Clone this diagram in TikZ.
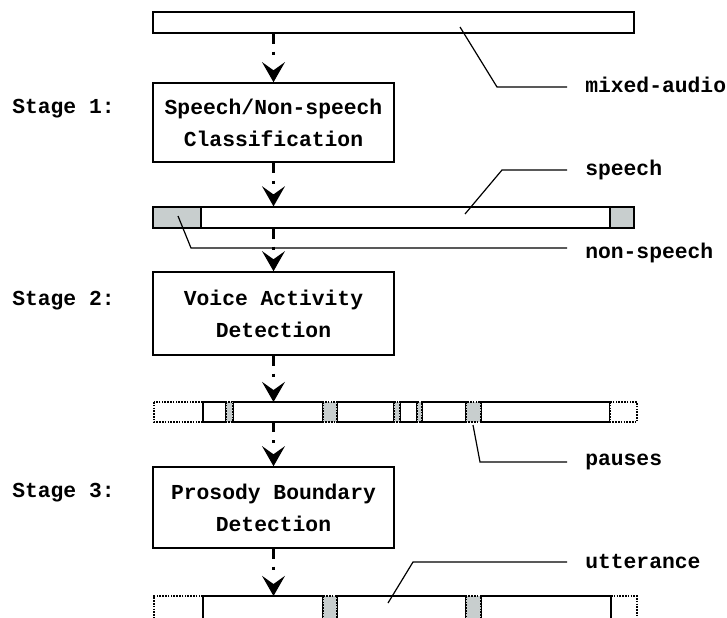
\documentclass[tikz,border=0pt]{standalone}
\usepackage{fontspec}
\setmainfont{Liberation Mono}
\usetikzlibrary{arrows.meta,calc}
\definecolor{pausegray}{RGB}{200,206,206}
\tikzset{
 txt/.style={font=\fontsize{16}{24}\selectfont\bfseries},
 stagebox/.style={draw, line width=1.1pt, minimum width=180.75pt, align=center, txt},
 lbl/.style={anchor=base west, inner sep=0pt, txt},
 flow/.style={line width=2.4pt, dash pattern=on 7.5pt off 6pt on 2.4pt off 30pt, -{Stealth[length=15pt,width=17pt,inset=6pt]}},
 seg/.style={draw, line width=0.9pt, fill=white},
 dots/.style={line width=1.7pt, dash pattern=on 1.2pt off 0.9pt},
 pausebox/.style={draw, dots, fill=pausegray},
 dotedge/.style={draw, dots},
 leader/.style={line width=0.9pt},
}
\begin{document}
\begin{tikzpicture}[x=0.75pt,y=-0.75pt]
\useasboundingbox (0,0) rectangle (727,617);
\clip (0,0) rectangle (727,617);
% bars 1 and 2
\node[seg, minimum width=360.75pt, minimum height=15.75pt, inner sep=0pt] (bar1) at (393.5,22.5) {};
\node[seg, minimum width=360.75pt, minimum height=15.75pt, inner sep=0pt] (bar2) at (393.5,217.5) {};
\draw[seg, fill=pausegray] (153,207) rectangle (201,228);
\draw[seg, fill=pausegray] (610,207) rectangle (634,228);
% stage boxes
\node[stagebox, minimum height=59.25pt] (box1) at (273.5,122.5) {Speech/Non-speech\\Classification};
\node[stagebox, minimum height=62.25pt] (box2) at (273.5,313.5) {Voice Activity\\Detection};
\node[stagebox, minimum height=60.75pt] (box3) at (273.5,507.5) {Prosody Boundary\\Detection};
% bar 3
\draw[dotedge, fill=white] (154,402) rectangle (203,422);
\draw[seg] (203,402) rectangle (226,422);
\draw[seg] (233,402) rectangle (323,422);
\draw[seg] (337,402) rectangle (394,422);
\draw[seg] (400,402) rectangle (417,422);
\draw[seg] (422,402) rectangle (466,422);
\draw[seg] (481,402) rectangle (610,422);
\draw[dotedge, fill=white] (610,402) rectangle (637,422);
\draw[pausebox] (226,402) rectangle (233,422);
\draw[pausebox] (323,402) rectangle (337,422);
\draw[pausebox] (394,402) rectangle (400,422);
\draw[pausebox] (417,402) rectangle (422,422);
\draw[pausebox] (466,402) rectangle (481,422);
\coordinate (b3top) at (275,402);
\coordinate (b3bot) at (275,422);
% bar 4
\draw[dotedge] (203,596) -- (154,596) -- (154,625);
\draw[dotedge] (611,596) -- (637,596) -- (637,625);
\draw[seg] (203,596) rectangle (323,625);
\draw[seg] (337,596) rectangle (466,625);
\draw[seg] (481,596) rectangle (611,625);
\draw[pausebox] (323,596) rectangle (337,625);
\draw[pausebox] (466,596) rectangle (481,625);
\coordinate (b4top) at (275,596);
% flow arrows
\draw[flow] (box1.north |- bar1.south) -- (box1.north);
\draw[flow] (box1.south) -- (box1.south |- bar2.north);
\draw[flow] (box2.north |- bar2.south) -- (box2.north);
\draw[flow] (box2.south) -- (box2.south |- b3top);
\draw[flow] (box3.north |- b3bot) -- (box3.north);
\draw[flow] (box3.south) -- (box3.south |- b4top);
% stage labels
\node[lbl] (s1) at (12,113) {Stage 1:};
\node[lbl] (s2) at (12,305) {Stage 2:};
\node[lbl] (s3) at (12,497) {Stage 3:};
% right labels
\node[lbl] (lmix) at (585,92) {mixed-audio};
\node[lbl] (lsp) at (585,175) {speech};
\node[lbl] (lns) at (585,258) {non-speech};
\node[lbl] (lpa) at (585,465) {pauses};
\node[lbl] (lut) at (585,568) {utterance};
% leaders
\coordinate (pmix) at (460,27);
\coordinate (psp) at (465,214);
\coordinate (pns) at (178,216);
\coordinate (ppa) at (473,425);
\coordinate (put) at (388,603);
\draw[leader] (pmix) -- (497,87) -- (567,87);
\draw[leader] (psp) -- (502,170) -- (567,170);
\draw[leader] (pns) -- (191,248) -- (567,248);
\draw[leader] (ppa) -- (480,462) -- (567,462);
\draw[leader] (put) -- (413,562) -- (567,562);
\end{tikzpicture}
\end{document}
